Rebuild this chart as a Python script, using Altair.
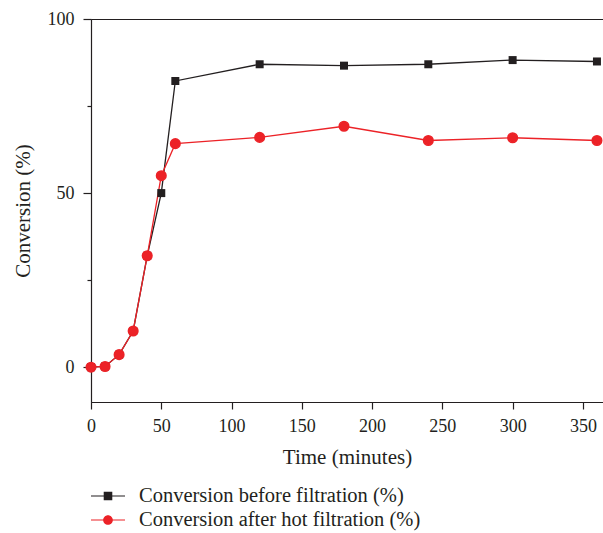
import altair as alt
import pandas as pd

time = [0, 10, 20, 30, 40, 50, 60, 120, 180, 240, 300, 360]
before = [0, 0.2, 3.6, 10.4, 32, 50, 82.2, 87.0, 86.6, 87.0, 88.2, 87.8]
after = [0, 0.2, 3.6, 10.4, 32, 55, 64.2, 66.0, 69.2, 65.1, 65.9, 65.1]
series_names = ["Conversion before filtration (%)", "Conversion after hot filtration (%)"]
colors = ["#231f20", "#ec2227"]

rows = []
for t, b in zip(time, before):
    rows.append({"time": t, "value": b, "series": series_names[0]})
for t, a in zip(time, after):
    rows.append({"time": t, "value": a, "series": series_names[1]})
df = pd.DataFrame(rows)

FONT = "Liberation Serif"

xscale = alt.Scale(domain=[0, 364.3], nice=False, zero=False)
yscale = alt.Scale(domain=[-10, 100], nice=False, zero=False)
cscale = alt.Scale(domain=series_names, range=colors)

xaxis = alt.Axis(
    values=list(range(0, 376, 25)),
    labelExpr="datum.value % 50 === 0 ? datum.label : ''",
    tickSize={"condition": {"test": "datum.value % 50 === 0", "value": 7}, "value": 3.5},
    title="Time (minutes)", grid=False, labelPadding=8,
    titlePadding=11, labelFlush=False,
)
yaxis = alt.Axis(
    values=[0, 25, 50, 75, 100],
    labelExpr="datum.value % 50 === 0 ? datum.label : ''",
    tickSize={"condition": {"test": "datum.value % 50 === 0", "value": 8}, "value": 4},
    title="Conversion (%)", grid=False, labelPadding=9,
    titlePadding=14,
)

base = alt.Chart(df)
black_df = base.transform_filter(alt.datum.series == series_names[0])
red_df = base.transform_filter(alt.datum.series == series_names[1])

line_black = black_df.mark_line(strokeWidth=1.3, color=colors[0]).encode(
    x=alt.X("time:Q", scale=xscale, axis=xaxis),
    y=alt.Y("value:Q", scale=yscale, axis=yaxis),
)
line_red = red_df.mark_line(strokeWidth=1.3, color=colors[1]).encode(
    x="time:Q", y="value:Q",
)

sq = black_df.mark_point(
    shape="square", filled=True, size=64, opacity=1, color=colors[0]
).encode(x="time:Q", y="value:Q")

ci = red_df.mark_point(
    shape="circle", filled=True, size=90, opacity=1, color=colors[1],
    stroke=colors[1], strokeWidth=1.6,
).encode(x="time:Q", y="value:Q")

leg_paths = [
    "M-1.55,-0.055H-0.3V0.055H-1.55Z M0.3,-0.055H1.55V0.055H0.3Z M-0.39,-0.39H0.39V0.39H-0.39Z",
    "M-1.55,-0.055H-0.3V0.055H-1.55Z M0.3,-0.055H1.55V0.055H0.3Z M-0.44,0A0.44,0.44 0 1,1 0.44,0A0.44,0.44 0 1,1 -0.44,0Z",
]

legend_props = dict(
    title=None, orient="none", legendX=6, legendY=466,
    direction="vertical", symbolSize=484, symbolOpacity=1,
    symbolStrokeWidth=0, labelOffset=20, rowPadding=2, padding=0,
    labelFont=FONT, labelFontSize=20.5, labelColor="#231f20",
    labelLimit=500,
)

legend_layer = base.mark_point(filled=True, opacity=0).encode(
    x="time:Q", y="value:Q",
    color=alt.Color("series:N", scale=cscale, sort=series_names,
                    legend=alt.Legend(**legend_props)),
    shape=alt.Shape("series:N", sort=series_names,
                    scale=alt.Scale(domain=series_names, range=leg_paths),
                    legend=alt.Legend(**legend_props)),
)

chart = alt.layer(legend_layer, line_black, line_red, sq, ci).properties(
    width=512, height=383,
    padding={"left": 91, "top": 19, "right": 0, "bottom": 131},
    autosize="none", background="white",
).configure_view(
    stroke="#231f20", strokeWidth=1,
).configure_axis(
    labelFont=FONT, titleFont=FONT, labelFontSize=18, titleFontSize=21,
    titleFontWeight="normal", labelColor="#231f20", titleColor="#231f20",
    domainColor="#231f20", tickColor="#231f20", domainWidth=1.2, tickWidth=1.2,
)

chart.save("out.html", embed_options={"renderer": "svg", "actions": False})
